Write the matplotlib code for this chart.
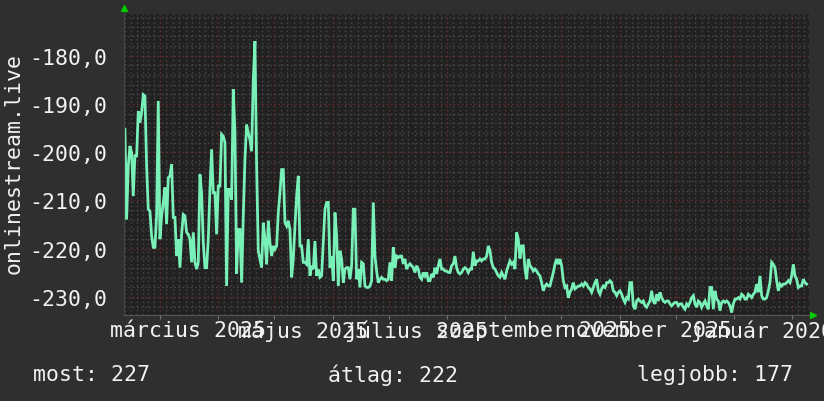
import numpy as np
import pandas as pd
import matplotlib
matplotlib.use("Agg")
import matplotlib.pyplot as plt
import matplotlib.dates as mdates
from matplotlib.ticker import FuncFormatter, MultipleLocator

# daily rank of onlinestream.live (negative = rank position)
rank_feb_mar = [
    -195.3, -213.9, -202.9, -198.7, -200.1, -209.1, -200.5, -201.0, -191.5, -193.9,
    -191.8, -188.1, -188.4, -202.9, -211.8, -212.2, -217.3, -219.7, -219.7, -213.2,
    -189.4, -218.0, -213.2, -210.4, -207.3, -214.9, -205.3, -204.9, -202.5, -213.5,
    -213.5, -221.5, -218.0, -223.9, -217.0, -212.9, -213.2, -216.6, -217.0, -218.0,
    -222.8, -216.6, -222.8, -224.2, -222.8, -204.6, -208.4, -218.7, -223.9, -223.9,
    -218.0, -207.7, -199.4, -208.4, -208.4, -217.0, -207.0, -207.0, -196.3, -196.7,
    -198.0, -227.7, -207.7, -207.7, -209.8, -187.0, -196.0, -225.2, -216.0, -216.0,
]
rank_apr_jun = [
    -227.0, -213.2, -201.5, -194.3, -196.0, -197.4, -199.8, -185.0, -177.0, -202.9,
    -220.4, -222.1, -223.9, -214.6, -218.0, -223.2, -214.2, -218.7, -221.5, -219.4,
    -220.1, -219.4, -212.5, -208.4, -203.6, -203.6, -214.6, -215.3, -214.2, -216.0,
    -225.9, -222.1, -215.3, -209.1, -204.9, -219.4, -219.4, -222.8, -222.8, -223.2,
    -218.0, -225.6, -223.5, -224.2, -218.4, -225.6, -224.2, -225.9, -225.6, -218.7,
    -211.8, -210.4, -210.4, -223.9, -221.5, -226.6, -212.5, -217.3, -227.7, -220.4,
    -222.1, -227.0, -224.2, -223.9, -223.9, -226.3, -223.5, -211.8, -211.8,
]
rank_jun_aug = [
    -226.3, -224.2, -228.0, -222.8, -223.1, -227.7, -228.0, -228.0, -227.7, -226.6,
    -210.4, -221.5, -224.6, -227.0, -226.3, -225.9, -226.3, -226.3, -226.6, -226.3,
    -222.8, -226.6, -219.7, -223.9, -221.5, -221.8, -221.5, -221.5, -223.1, -222.1,
    -224.2, -223.5, -223.1, -223.5, -223.9, -224.9, -223.5, -224.2, -225.9, -226.3,
    -224.9, -225.6, -224.9, -226.6, -226.6, -225.2, -225.9, -223.9, -225.2, -223.5,
    -222.1, -224.2, -224.2, -224.6, -224.6, -224.9, -224.9, -223.5, -223.1, -221.5,
    -223.9, -224.9, -225.2, -224.9, -224.2, -223.9, -224.2, -224.9, -224.2,
]
rank_aug_oct = [
    -224.2, -220.6, -223.5, -222.5, -222.5, -222.1, -222.5, -222.1, -222.1, -221.5,
    -219.4, -220.4, -222.8, -223.9, -224.2, -224.9, -225.6, -225.9, -224.9, -225.6,
    -226.3, -224.6, -223.5, -222.5, -223.2, -222.8, -224.2, -216.6, -218.0, -222.0,
    -219.4, -219.4, -224.2, -226.3, -222.1, -223.5, -223.9, -224.6, -224.2, -224.6,
    -225.2, -225.6, -227.0, -228.7, -227.7, -227.3, -227.7, -227.7, -226.3, -224.9,
    -223.2, -222.1, -223.2, -222.1, -223.5, -226.6, -228.0, -227.7, -230.1, -229.0,
    -228.3, -227.0, -228.3, -228.0, -227.7, -227.7, -227.3, -227.7, -227.0,
]
rank_oct_dec = [
    -227.3, -228.0, -228.3, -229.0, -228.0, -227.0, -226.3, -228.7, -229.4, -228.3,
    -227.7, -228.0, -227.0, -227.0, -226.6, -227.0, -228.7, -229.0, -229.7, -229.0,
    -228.7, -229.4, -230.4, -231.1, -230.1, -230.4, -227.0, -227.0, -231.8, -232.5,
    -230.8, -230.4, -230.8, -231.1, -230.8, -231.8, -232.1, -231.4, -230.8, -228.7,
    -230.8, -231.4, -229.4, -230.8, -229.0, -230.1, -230.8, -231.1, -230.8, -230.8,
    -231.4, -231.8, -231.4, -231.1, -231.1, -231.8, -231.4, -231.4, -232.1, -232.5,
    -231.4, -231.8, -231.1, -230.1, -229.7, -231.4, -232.1, -230.8, -231.1,
]
rank_dec_feb = [
    -232.1, -231.4, -230.8, -231.8, -232.5, -228.0, -228.0, -232.5, -228.7, -230.4,
    -230.8, -232.8, -231.1, -230.8, -231.1, -230.8, -231.1, -231.8, -233.2, -231.4,
    -230.4, -230.4, -230.1, -230.4, -229.4, -229.7, -230.4, -230.4, -229.4, -229.7,
    -230.1, -229.4, -229.0, -227.3, -229.0, -225.6, -229.7, -230.4, -230.4, -230.1,
    -228.7, -227.0, -222.8, -223.2, -223.9, -226.6, -228.7, -227.3, -227.7, -227.3,
    -227.3, -227.0, -226.6, -227.0, -225.6, -223.2, -225.6, -226.3, -228.0, -227.7,
    -227.7, -226.3, -227.0, -227.3,
]

rank = rank_feb_mar + rank_apr_jun + rank_jun_aug + rank_aug_oct + rank_oct_dec + rank_dec_feb
dates = pd.date_range("2025-02-10 07:00", "2026-02-08 19:00", periods=len(rank))

month_labels = ["március 2025", "május 2025", "július 2025",
                "szeptember 2025", "november 2025", "január 2026"]
label_dates = pd.to_datetime(["2025-03-16", "2025-05-16", "2025-07-16",
                              "2025-09-16", "2025-11-16", "2026-01-16"])

stats = ["most: 227", "átlag: 222", "legjobb: 177"]

plt.rcParams['font.family'] = ['DejaVu Sans Mono']
plt.rcParams['font.size'] = 15.5
txt = '#f2f2f2'

fig = plt.figure(figsize=(8.24, 4.02), dpi=100, facecolor='#2f2f2f')
ax = fig.add_axes([124/824, 1 - 316/402, (809 - 124)/824, (316 - 15)/402])
ax.set_facecolor('#212121')
ax.set_axisbelow(True)

ax.plot(dates, rank, color='#78f0b8', lw=2, solid_joinstyle='miter')

# grid: month lines red, sub-month gray
month_starts = pd.date_range("2025-02-01", "2026-03-01", freq="MS")
ax.set_xticks(month_starts)
sub = []
for a, b in zip(month_starts[:-1], month_starts[1:]):
    sub += list(np.linspace(mdates.date2num(a), mdates.date2num(b), 10)[1:-1])
ax.set_xticks(sub, minor=True)
ax.yaxis.set_major_locator(MultipleLocator(10))
ax.yaxis.set_minor_locator(MultipleLocator(2))
ax.yaxis.set_major_formatter(FuncFormatter(lambda v, p: f"{v:.1f}".replace('.', ',')))

ax.set_xlim(pd.Timestamp("2025-02-09 19:00"), pd.Timestamp("2026-02-10 01:00"))
ax.set_ylim(-233.7, -171.4)

ax.grid(which='minor', color='#4a4a4a', linestyle=(0, (1, 2)), lw=1)
ax.grid(which='major', color='#6c3030', linestyle=(0, (1, 2)), lw=1)

ax.tick_params(axis='x', which='major', length=3, color='#777777', labelbottom=False)
ax.tick_params(axis='x', which='minor', length=0)
ax.tick_params(axis='y', which='both', length=0, pad=12, labelcolor=txt)

for s in ['top', 'right']:
    ax.spines[s].set_visible(False)
ax.spines['left'].set_color('#444444')
ax.spines['bottom'].set_color('#555555')

# rrd-style arrows
ax.plot([0], [1 + 6/301], marker='^', color='#00cc00', ms=5, transform=ax.transAxes, clip_on=False)
ax.plot([1 + 4/685], [0], marker='>', color='#00cc00', ms=5, transform=ax.transAxes, clip_on=False)

for d, lab in zip(label_dates, month_labels):
    ax.text(d, -0.05, lab, transform=ax.get_xaxis_transform(),
            ha='center', va='center', color=txt)

fig.text(14/824, 1 - 163/402, 'onlinestream.live', rotation=90,
         ha='center', va='center', color=txt)

for xpos, s in zip([33, 328, 637], stats):
    fig.text(xpos/824, 1 - 375/402, s, ha='left', va='center', color=txt)

fig.savefig('out.png', dpi=100, facecolor=fig.get_facecolor())
